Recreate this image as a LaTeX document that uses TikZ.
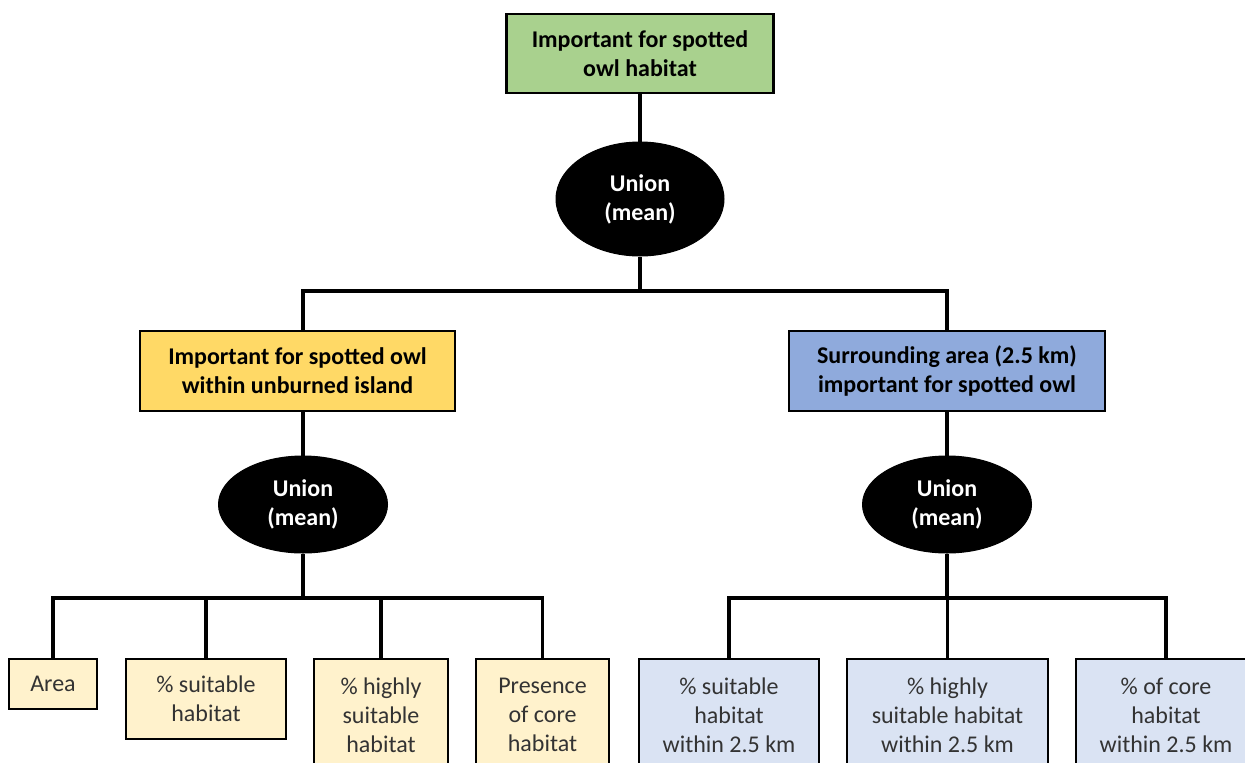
\documentclass[tikz,border=0pt]{standalone}
\usepackage{fontspec}
\setmainfont{Carlito}
\usetikzlibrary{shapes.geometric}
\definecolor{cgreen}{HTML}{A9D18E}
\definecolor{cyellow}{HTML}{FFD966}
\definecolor{cblue}{HTML}{8FAADC}
\definecolor{lyellow}{HTML}{FFF2CC}
\definecolor{lblue}{HTML}{DAE3F3}
\definecolor{leaftext}{HTML}{333333}
\tikzset{
  box/.style={draw=black, line width=2.5pt, rectangle, align=center, inner sep=0pt,
    font=\fontsize{24}{29}\selectfont},
  headbox/.style={box, font=\fontsize{24}{29}\selectfont\bfseries},
  leafbox/.style={box, text=leaftext},
  unionnode/.style={ellipse, fill=black, draw=black, line width=1pt, text=white, align=center,
    inner sep=0pt, font=\fontsize{24}{29}\selectfont\bfseries},
  conn/.style={line width=3.2pt, draw=black},
}
\begin{document}
\begin{tikzpicture}[x=1pt, y=-1pt]
\clip (0,0) rectangle (1245,763);
\useasboundingbox (0,0) rectangle (1245,763);
\fill[white] (0,0) rectangle (1245,763);

% nodes
\node[headbox, fill=cgreen, minimum width=267pt, minimum height=79pt] (top) at (640,53.5) {Important for spotted\\owl habitat};
\node[unionnode, minimum width=168pt, minimum height=114pt] (u0) at (640,199) {Union\\(mean)};

\node[headbox, fill=cyellow, minimum width=315pt, minimum height=80pt] (L) at (297.5,371) {Important for spotted owl\\within unburned island};
\node[headbox, fill=cblue, minimum width=316pt, minimum height=80pt] (R) at (947,371) {Surrounding area (2.5 km)\\important for spotted owl};

\node[unionnode, minimum width=169pt, minimum height=97pt] (u1) at (303,504.5) {Union\\(mean)};
\node[unionnode, minimum width=169pt, minimum height=97pt] (u2) at (947,504.5) {Union\\(mean)};

\node[leafbox, fill=lyellow, minimum width=88pt, minimum height=50pt] (a1) at (53,684) {Area};
\node[leafbox, fill=lyellow, minimum width=160pt, minimum height=80pt] (a2) at (206,699) {\% suitable\\habitat};
\node[leafbox, fill=lyellow, minimum width=134pt, minimum height=112pt] (a3) at (381,715) {\% highly\\suitable\\habitat};
\node[leafbox, fill=lyellow, minimum width=133pt, minimum height=112pt] (a4) at (542.5,715) {Presence\\of core\\habitat};

\node[leafbox, fill=lblue, minimum width=180pt, minimum height=112pt] (b1) at (729,715) {\% suitable\\habitat\\within 2.5 km};
\node[leafbox, fill=lblue, minimum width=201pt, minimum height=112pt] (b2) at (947.5,715) {\% highly\\suitable habitat\\within 2.5 km};
\node[leafbox, fill=lblue, minimum width=180pt, minimum height=112pt] (b3) at (1166,715) {\% of core\\habitat\\within 2.5 km};

% bus coordinates
\coordinate (bus0) at (640,291);
\coordinate (bus1) at (303,598);
\coordinate (bus2) at (947,598);

% connectors
\draw[conn] (top.south) -- (u0.north);
\draw[conn] (u0.south) -- (bus0);
\draw[conn] (L.north -| u1.north) |- (bus0) -| (R.north);
\draw[conn] (L.south -| u1.north) -- (u1.north);
\draw[conn] (R.south) -- (u2.north);

\draw[conn] (u1.south) -- (bus1);
\draw[conn] (a1.north) |- (a4.north |- bus1) -- (a4.north);
\draw[conn] (a2.north) -- (a2.north |- bus1);
\draw[conn] (a3.north) -- (a3.north |- bus1);

\draw[conn] (u2.south) -- (bus2);
\draw[conn] (b1.north) |- (b3.north |- bus2) -- (b3.north);
\draw[conn] (b2.north) -- (b2.north |- bus2);
\end{tikzpicture}
\end{document}
